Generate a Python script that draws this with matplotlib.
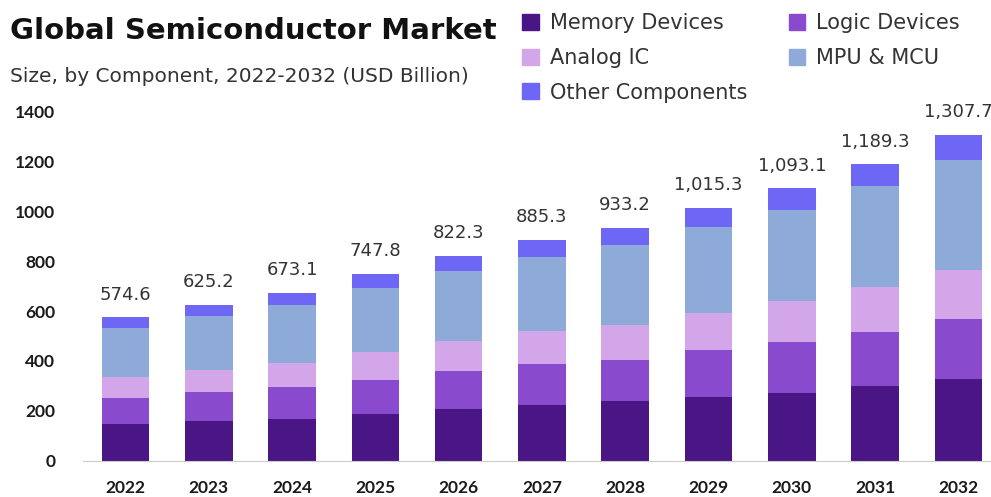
import matplotlib
matplotlib.use("Agg")
import matplotlib.pyplot as plt
import numpy as np
from matplotlib.patches import Patch

years = ["2022", "2023", "2024", "2025", "2026", "2027", "2028", "2029", "2030", "2031", "2032"]
totals = [574.6, 625.2, 673.1, 747.8, 822.3, 885.3, 933.2, 1015.3, 1093.1, 1189.3, 1307.7]
memory = [147, 158, 168, 188, 206, 223, 238, 254, 273, 300, 326]
logic = [104, 116, 126, 136, 152, 163, 167, 189, 203, 216, 241]
analog = [85, 91, 98, 110, 122, 134, 140, 151, 164, 181, 197]
mpu = [196, 214, 232, 259, 283, 299, 321, 344, 368, 404, 444]
other = [42.6, 46.2, 49.1, 54.8, 59.3, 66.3, 67.2, 77.3, 85.1, 88.3, 99.7]

series_names = ["Memory Devices", "Logic Devices", "Analog IC", "MPU & MCU", "Other Components"]
series_vals = [memory, logic, analog, mpu, other]
colors = ["#4a1585", "#8a4acd", "#d3a6ea", "#8eaad9", "#6e66f4"]

fig = plt.figure(figsize=(9.91, 4.97), dpi=100)
ax = fig.add_axes([83 / 991, 36.5 / 497, 907 / 991, 348.5 / 497])

x = np.arange(len(years))
bottom = np.zeros(len(years))
for name, vals, c in zip(series_names, series_vals, colors):
    ax.bar(x, vals, width=0.57, bottom=bottom, color=c, label=name, zorder=2)
    bottom += np.array(vals)

for xi, t, b in zip(x, totals, bottom):
    ax.annotate(f"{t:,.1f}", (xi, b), xytext=(0, 10), textcoords="offset points",
                ha="center", va="bottom", fontsize=13, color="#333333",
                family="DejaVu Sans")

ax.set_xlim(-0.51, 10.38)
ax.set_ylim(0, 1400)
ax.set_yticks(np.arange(0, 1401, 200))
ax.set_xticks(x)
ax.set_xticklabels(years)
for s in ["top", "right", "left"]:
    ax.spines[s].set_visible(False)
ax.spines["bottom"].set_color("#cccccc")
ax.tick_params(axis="both", length=0)
ax.tick_params(axis="y", pad=20)
ax.tick_params(axis="x", pad=14)
for lab in ax.get_xticklabels() + ax.get_yticklabels():
    lab.set_fontfamily("Lato")
    lab.set_fontweight("bold")
    lab.set_fontsize(12.5)
    lab.set_color("#1a1a1a")

fig.text(10 / 991, 1 - 31 / 497, "Global Semiconductor Market", fontsize=21,
         fontweight="bold", color="#111111", va="center", ha="left", family="DejaVu Sans")
fig.text(10 / 991, 1 - 76 / 497, "Size, by Component, 2022-2032 (USD Billion)", fontsize=14.5,
         color="#333333", va="center", ha="left", family="DejaVu Sans")

handles = [Patch(color=c) for c in colors]
order = [0, 2, 4, 1, 3]
leg = fig.legend([handles[i] for i in order], [series_names[i] for i in order],
                 ncol=2, loc="upper left", bbox_to_anchor=(512 / 991, 1 - 3 / 497),
                 frameon=False, fontsize=15, handlelength=0.8, handleheight=0.8,
                 handletextpad=0.5, columnspacing=2.0, labelspacing=0.7, borderpad=0,
                 labelcolor="#333333")

fig.savefig("out.png", dpi=100)
